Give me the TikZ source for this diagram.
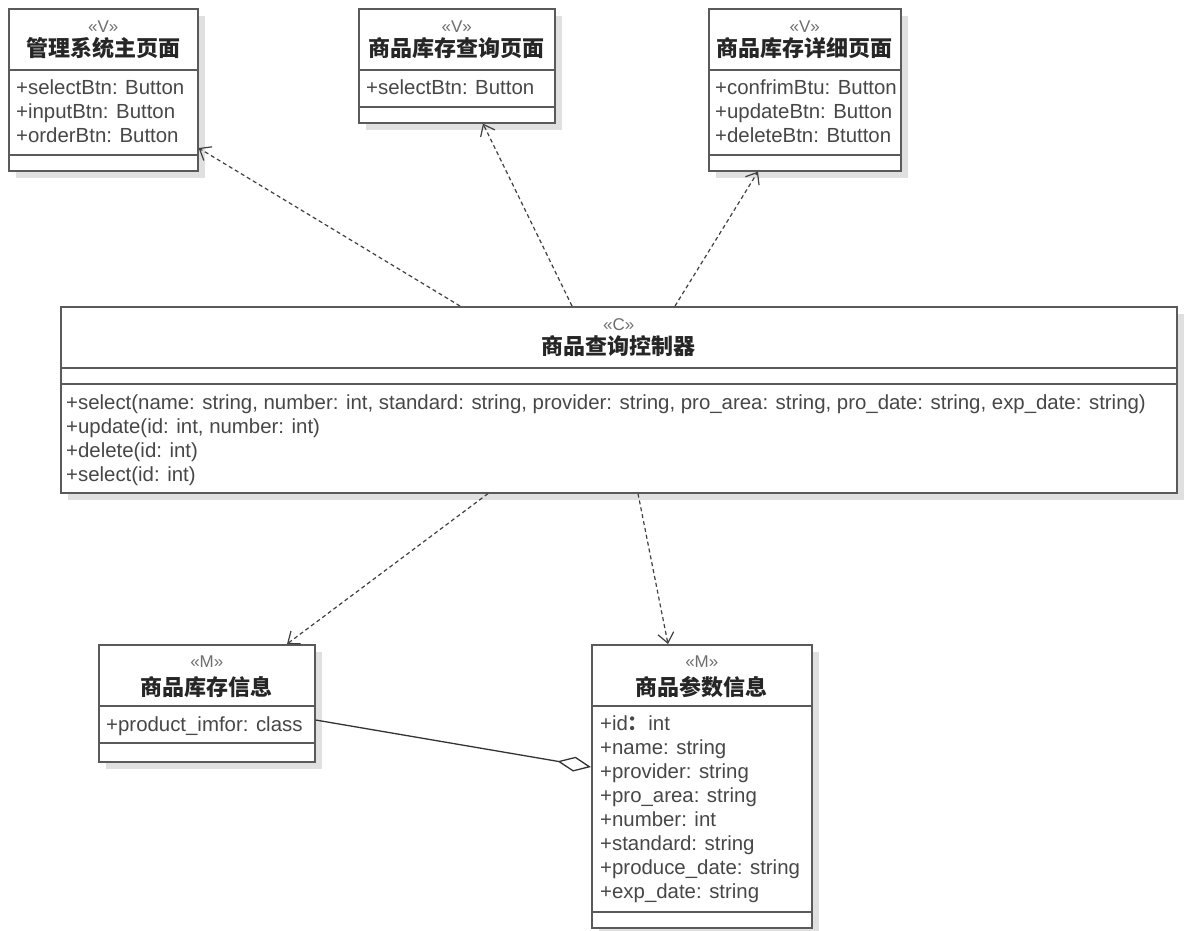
\documentclass[tikz,border=0pt]{standalone}
\usepackage{fontspec}
\setmainfont{Liberation Sans}
\newfontfamily\cjk{Noto Sans CJK SC}
\usetikzlibrary{arrows.meta,shadows}

\definecolor{linegray}{HTML}{5A5A5A}
\definecolor{txtgray}{HTML}{474747}
\definecolor{stgray}{HTML}{6E6E6E}

\tikzset{
  cls/.style={draw=linegray, line width=1.6pt, fill=white, anchor=north west, inner sep=0pt,
    drop shadow={shadow xshift=7pt, shadow yshift=-7pt, opacity=.12, fill=black}},
  sep/.style={draw=linegray, line width=1.6pt},
  stereo/.style={font=\fontsize{17}{17}\selectfont, text=stgray, inner sep=0pt},
  cname/.style={font=\cjk\bfseries\fontsize{22}{22}\selectfont, text=black!85, inner sep=0pt},
  attr/.style={anchor=base west, font=\fontsize{20.4}{24}\selectfont, text=txtgray, inner sep=0pt},
  dep/.style={draw=black!75, line width=1.2pt, dash pattern=on 4pt off 3pt,
    -{Straight Barb[length=10pt,width=16pt]}},
  agg/.style={draw=black!80, line width=1.3pt, -{Diamond[open,length=34pt,width=15pt]}},
}

\begin{document}
\begin{tikzpicture}[x=1pt, y=-1pt]
  \fill[white] (0,0) rectangle (1187,930);
  \useasboundingbox (0,0) rectangle (1187,930);

  % views
  \node[cls, minimum width=189pt, minimum height=162pt] (home) at (8,8) {};
  \node[stereo] (home-st) at ([yshift=-19pt]home.north) {«V»};
  \node[cname] (home-nm) at ([yshift=-40pt]home.north) {管理系统主页面};
  \draw[sep] (home.west |- 0,70) -- (home.east |- 0,70);
  \draw[sep] (home.west |- 0,155) -- (home.east |- 0,155);
  \foreach \t [count=\i] in {{+selectBtn: Button},{+inputBtn: Button},{+orderBtn: Button}}
    \node[attr] (home-a\i) at (16,70+24*\i) {\t};

  \node[cls, minimum width=196pt, minimum height=114pt] (query) at (358,8) {};
  \node[stereo] (query-st) at ([yshift=-19pt]query.north) {«V»};
  \node[cname] (query-nm) at ([yshift=-40pt]query.north) {商品库存查询页面};
  \draw[sep] (query.west |- 0,70) -- (query.east |- 0,70);
  \draw[sep] (query.west |- 0,107) -- (query.east |- 0,107);
  \node[attr] (query-a1) at (366,94) {+selectBtn: Button};

  \node[cls, minimum width=192pt, minimum height=162pt] (detail) at (708,8) {};
  \node[stereo] (detail-st) at ([yshift=-19pt]detail.north) {«V»};
  \node[cname] (detail-nm) at ([yshift=-40pt]detail.north) {商品库存详细页面};
  \draw[sep] (detail.west |- 0,70) -- (detail.east |- 0,70);
  \draw[sep] (detail.west |- 0,155) -- (detail.east |- 0,155);
  \foreach \t [count=\i] in {{+confrimBtu: Button},{+updateBtn: Button},{+deleteBtn: Btutton}}
    \node[attr] (detail-a\i) at (715,70+24*\i) {\t};

  % controller
  \node[cls, minimum width=1116pt, minimum height=186pt] (ctrl) at (60,306) {};
  \node[stereo] (ctrl-st) at ([yshift=-19pt]ctrl.north) {«C»};
  \node[cname] (ctrl-nm) at ([yshift=-40pt]ctrl.north) {商品查询控制器};
  \draw[sep] (ctrl.west |- 0,368) -- (ctrl.east |- 0,368);
  \draw[sep] (ctrl.west |- 0,384) -- (ctrl.east |- 0,384);
  \foreach \t [count=\i] in {%
      {+select(name: string, number: int, standard: string, provider: string, pro\_area: string, pro\_date: string, exp\_date: string)},
      {+update(id: int, number: int)},{+delete(id: int)},{+select(id: int)}}
    \node[attr] (ctrl-m\i) at (66,385+24*\i) {\t};

  % models
  \node[cls, minimum width=216pt, minimum height=117pt] (stock) at (98,644) {};
  \node[stereo] (stock-st) at ([yshift=-18pt]stock.north) {«M»};
  \node[cname] (stock-nm) at ([yshift=-43pt]stock.north) {商品库存信息};
  \draw[sep] (stock.west |- 0,706) -- (stock.east |- 0,706);
  \draw[sep] (stock.west |- 0,743) -- (stock.east |- 0,743);
  \node[attr] (stock-a1) at (106,731) {+product\_imfor: class};

  \node[cls, minimum width=220pt, minimum height=283pt] (param) at (591,644) {};
  \node[stereo] (param-st) at ([yshift=-18pt]param.north) {«M»};
  \node[cname] (param-nm) at ([yshift=-43pt]param.north) {商品参数信息};
  \draw[sep] (param.west |- 0,706) -- (param.east |- 0,706);
  \draw[sep] (param.west |- 0,912) -- (param.east |- 0,912);
  \foreach \t [count=\i] in {{+id{\cjk\bfseries ：}int},{+name: string},{+provider: string},{+pro\_area: string},
      {+number: int},{+standard: string},{+produce\_date: string},{+exp\_date: string}}
    \node[attr] (param-a\i) at (600,706+24*\i) {\t};

  % dependencies
  \draw[dep] (ctrl.north -| 460,0) -- (home.east |- 0,148);
  \draw[dep] (ctrl.north -| 572,0) -- (query.south -| 483,0);
  \draw[dep] (ctrl.north -| 675,0) -- (detail.south -| 758,0);
  \draw[dep] (ctrl.south -| 488,0) -- (stock.north -| 287,0);
  \draw[dep] (ctrl.south -| 638,0) -- (param.north -| 668,0);
  \draw[agg] (stock.east |- 0,720) -- (param.west |- 0,767);
\end{tikzpicture}
\end{document}
